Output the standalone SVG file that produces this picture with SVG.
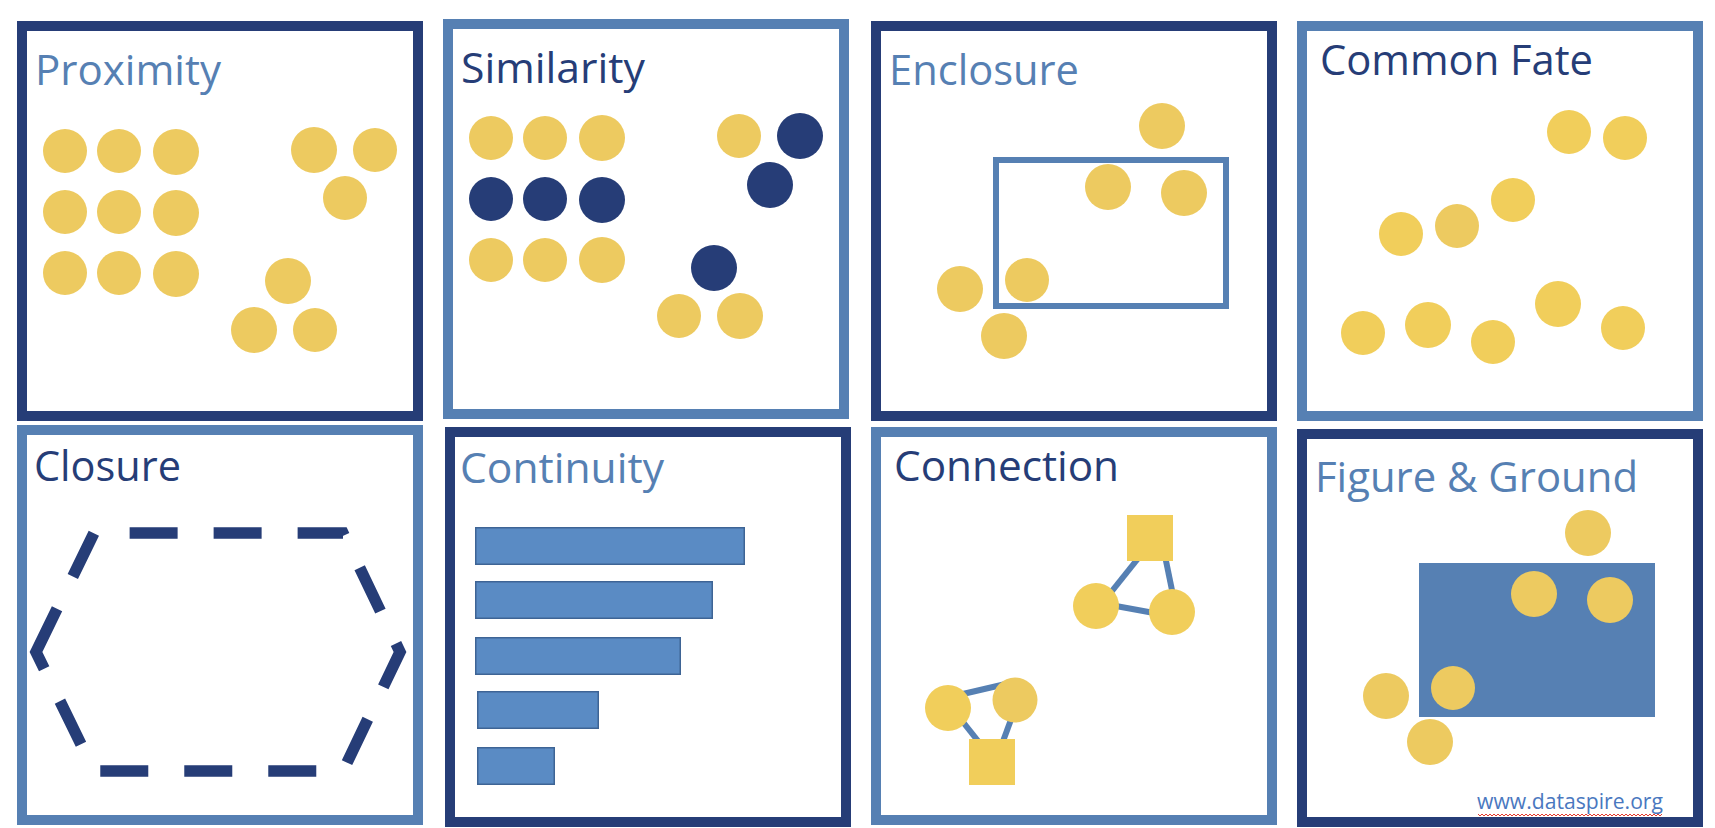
<svg xmlns="http://www.w3.org/2000/svg" width="1715" height="828" viewBox="0 0 1715 828">
  <style>
    .frame-navy { fill: #ffffff; stroke: #263D77; stroke-width: 10; }
    .frame-blue { fill: #ffffff; stroke: #5680B3; stroke-width: 10; }
    .title { font-family: "Open Sans", "Noto Sans", "Liberation Sans", sans-serif; font-size: 42px; }
    .t-navy { fill: #263D77; }
    .t-blue { fill: #5680B3; }
    .dot { fill: #EDCA60; }
    .dot2 { fill: #F1CE5B; }
    .dark { fill: #263D77; }
    .bar { fill: #5A8BC4; stroke: #3E6495; stroke-width: 1.5; }
    .link { stroke: #5680B3; stroke-width: 6; fill: none; }
  </style>

  <rect x="0" y="0" width="1715" height="828" fill="#ffffff"/>

  <!-- Proximity -->
  <g id="proximity">
    <rect class="frame-navy" x="22" y="26" width="396" height="390"/>
    <text class="title t-blue" x="35" y="85" textLength="186" lengthAdjust="spacingAndGlyphs">Proximity</text>
    <circle class="dot" cx="65" cy="151" r="22"/>
    <circle class="dot" cx="119" cy="151" r="22"/>
    <circle class="dot" cx="176" cy="152" r="23"/>
    <circle class="dot" cx="65" cy="212" r="22"/>
    <circle class="dot" cx="119" cy="212" r="22"/>
    <circle class="dot" cx="176" cy="213" r="23"/>
    <circle class="dot" cx="65" cy="273" r="22"/>
    <circle class="dot" cx="119" cy="273" r="22"/>
    <circle class="dot" cx="176" cy="274" r="23"/>
    <circle class="dot" cx="314" cy="150" r="23"/>
    <circle class="dot" cx="375" cy="150" r="22"/>
    <circle class="dot" cx="345" cy="198" r="22"/>
    <circle class="dot" cx="288" cy="281" r="23"/>
    <circle class="dot" cx="254" cy="330" r="23"/>
    <circle class="dot" cx="315" cy="330" r="22"/>
  </g>

  <!-- Similarity -->
  <g id="similarity">
    <rect class="frame-blue" x="448" y="24" width="396" height="390"/>
    <text class="title t-navy" x="461" y="82.7" textLength="184" lengthAdjust="spacingAndGlyphs">Similarity</text>
    <circle class="dot" cx="491" cy="138" r="22"/>
    <circle class="dot" cx="545" cy="138" r="22"/>
    <circle class="dot" cx="602" cy="138" r="23"/>
    <circle class="dark" cx="491" cy="199" r="22"/>
    <circle class="dark" cx="545" cy="199" r="22"/>
    <circle class="dark" cx="602" cy="200" r="23"/>
    <circle class="dot" cx="491" cy="260" r="22"/>
    <circle class="dot" cx="545" cy="260" r="22"/>
    <circle class="dot" cx="602" cy="260" r="23"/>
    <circle class="dot" cx="739" cy="136" r="22"/>
    <circle class="dark" cx="800" cy="136" r="23"/>
    <circle class="dark" cx="770" cy="185" r="23"/>
    <circle class="dark" cx="714" cy="268" r="23"/>
    <circle class="dot" cx="679" cy="316" r="22"/>
    <circle class="dot" cx="740" cy="316" r="23"/>
  </g>

  <!-- Enclosure -->
  <g id="enclosure">
    <rect class="frame-navy" x="876" y="26" width="396" height="390"/>
    <text class="title t-blue" x="889" y="85" textLength="190" lengthAdjust="spacingAndGlyphs">Enclosure</text>
    <rect x="996" y="160" width="230" height="146" fill="none" stroke="#5680B3" stroke-width="6"/>
    <circle class="dot" cx="1162" cy="126" r="23"/>
    <circle class="dot" cx="1108" cy="187" r="23"/>
    <circle class="dot" cx="1184" cy="193" r="23"/>
    <circle class="dot" cx="1027" cy="280" r="22"/>
    <circle class="dot" cx="960" cy="289" r="23"/>
    <circle class="dot" cx="1004" cy="336" r="23"/>
  </g>

  <!-- Common Fate -->
  <g id="common-fate">
    <rect class="frame-blue" x="1302" y="26" width="396" height="390"/>
    <text class="title t-navy" x="1320" y="75" textLength="273" lengthAdjust="spacingAndGlyphs">Common Fate</text>
    <circle class="dot2" cx="1569" cy="132" r="22"/>
    <circle class="dot2" cx="1625" cy="138" r="22"/>
    <circle class="dot2" cx="1513" cy="200" r="22"/>
    <circle class="dot" cx="1457" cy="226" r="22"/>
    <circle class="dot2" cx="1401" cy="234" r="22"/>
    <circle class="dot2" cx="1363" cy="333" r="22"/>
    <circle class="dot2" cx="1428" cy="325" r="23"/>
    <circle class="dot2" cx="1493" cy="342" r="22"/>
    <circle class="dot2" cx="1558" cy="304" r="23"/>
    <circle class="dot2" cx="1623" cy="328" r="22"/>
  </g>

  <!-- Closure -->
  <g id="closure">
    <rect class="frame-blue" x="22" y="430" width="396" height="390"/>
    <text class="title t-navy" x="34" y="480.7" textLength="147" lengthAdjust="spacingAndGlyphs">Closure</text>
    <path d="M36,652 L94,533 L343,533 L400,652 L343,771 L94,771 Z" fill="none" stroke="#263D77" stroke-width="11.5" stroke-dasharray="48 36" stroke-linejoin="miter"/>
  </g>

  <!-- Continuity -->
  <g id="continuity">
    <rect class="frame-navy" x="450" y="432" width="396" height="390"/>
    <text class="title t-blue" x="460" y="483.3" textLength="204" lengthAdjust="spacingAndGlyphs">Continuity</text>
    <rect class="bar" x="475.75" y="527.75" width="268.5" height="36.5"/>
    <rect class="bar" x="475.75" y="581.75" width="236.5" height="36.5"/>
    <rect class="bar" x="475.75" y="637.75" width="204.5" height="36.5"/>
    <rect class="bar" x="477.75" y="691.75" width="120.5" height="36.5"/>
    <rect class="bar" x="477.75" y="747.75" width="76.5" height="36.5"/>
  </g>

  <!-- Connection -->
  <g id="connection">
    <rect class="frame-blue" x="876" y="432" width="396" height="388"/>
    <text class="title t-navy" x="894" y="480.7" textLength="225" lengthAdjust="spacingAndGlyphs">Connection</text>
  </g>
  <g id="connectors">
    <line class="link" x1="1140" y1="556" x2="1104" y2="601"/>
    <line class="link" x1="1165" y1="556" x2="1174" y2="600"/>
    <line class="link" x1="1105" y1="604" x2="1165" y2="615"/>
    <line class="link" x1="950" y1="697" x2="1010" y2="683"/>
    <line class="link" x1="955" y1="712" x2="982" y2="746"/>
    <line class="link" x1="1016" y1="706" x2="1002" y2="744"/>
  </g>
  <g id="connection-shapes">
    <rect class="dot2" x="1127" y="515" width="46" height="46"/>
    <circle class="dot2" cx="1096" cy="606" r="23"/>
    <circle class="dot2" cx="1172" cy="612" r="23"/>
    <circle class="dot2" cx="948" cy="708" r="23"/>
    <circle class="dot" cx="1015" cy="700" r="22.5"/>
    <rect class="dot2" x="969" y="739" width="46" height="46"/>
  </g>

  <!-- Figure & Ground -->
  <g id="figure-ground">
    <rect class="frame-navy" x="1302" y="434" width="396" height="388"/>
    <text class="title t-blue" x="1315" y="491.7" textLength="323" lengthAdjust="spacingAndGlyphs">Figure &amp; Ground</text>
    <rect x="1419" y="563" width="236" height="154" fill="#5680B3"/>
    <circle class="dot" cx="1588" cy="533" r="23"/>
    <circle class="dot" cx="1534" cy="594" r="23"/>
    <circle class="dot" cx="1610" cy="600" r="23"/>
    <circle class="dot" cx="1453" cy="688" r="22"/>
    <circle class="dot" cx="1386" cy="696" r="23"/>
    <circle class="dot" cx="1430" cy="742" r="23"/>
    <text x="1477" y="809" font-family="'Open Sans', 'Noto Sans', 'Liberation Sans', sans-serif" font-size="21" fill="#4A78C0" textLength="186" lengthAdjust="spacingAndGlyphs">www.dataspire.org</text>
    <polyline points="1478,814 1480,816 1482,814 1484,816 1486,814 1488,816 1490,814 1492,816 1494,814 1496,816 1498,814 1500,816 1502,814 1504,816 1506,814 1508,816 1510,814 1512,816 1514,814 1516,816 1518,814 1520,816 1522,814 1524,816 1526,814 1528,816 1530,814 1532,816 1534,814 1536,816 1538,814 1540,816 1542,814 1544,816 1546,814 1548,816 1550,814 1552,816 1554,814 1556,816 1558,814 1560,816 1562,814 1564,816 1566,814 1568,816 1570,814 1572,816 1574,814 1576,816 1578,814 1580,816 1582,814 1584,816 1586,814 1588,816 1590,814 1592,816 1594,814 1596,816 1598,814 1600,816 1602,814 1604,816 1606,814 1608,816 1610,814 1612,816 1614,814 1616,816 1618,814 1620,816 1622,814 1624,816 1626,814 1628,816 1630,814 1632,816 1634,814 1636,816 1638,814 1640,816 1642,814 1644,816 1646,814 1648,816 1650,814 1652,816 1654,814 1656,816 1658,814 1660,816 1662,814" fill="none" stroke="#E23B2E" stroke-width="1"/>
  </g>
</svg>
